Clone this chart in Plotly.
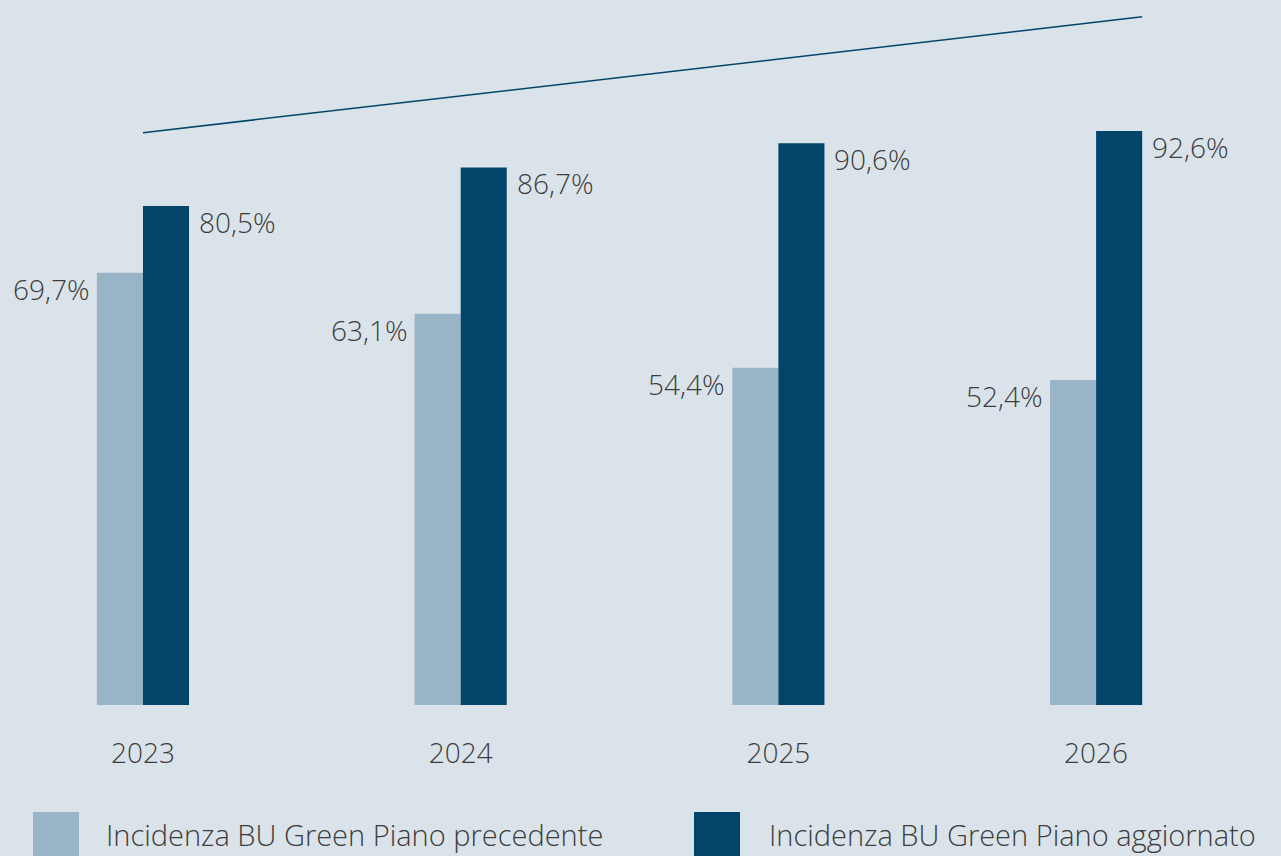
import plotly.graph_objects as go

# Data
years = ["2023", "2024", "2025", "2026"]
piano_precedente = [69.7, 63.1, 54.4, 52.4]
piano_aggiornato = [80.5, 86.7, 90.6, 92.6]
series_names = ["Incidenza BU Green Piano precedente", "Incidenza BU Green Piano aggiornato"]
trend_y = [92.3, 111.0]

LIGHT = "#9ab4c7"
DARK = "#03456a"
BG = "#dbe3ea"
TEXT = "#3d3d3d"
FONT = "Open Sans"
WEIGHT = 300

def fmt(v):
    return f"{v:.1f}".replace(".", ",") + "%"

fig = go.Figure()
fig.add_trace(go.Bar(x=years, y=piano_precedente, name=series_names[0],
                     marker=dict(color=LIGHT, line=dict(width=0))))
fig.add_trace(go.Bar(x=years, y=piano_aggiornato, name=series_names[1],
                     marker=dict(color=DARK, line=dict(width=0))))

half = 0.145  # single bar width in category units
lab_font = dict(size=28, color=TEXT, family=FONT, weight=WEIGHT)
annotations = []
for i, (a, b) in enumerate(zip(piano_precedente, piano_aggiornato)):
    annotations.append(dict(x=i - half, y=a, xref="x", yref="y", text=fmt(a),
                            showarrow=False, xanchor="right", yanchor="middle",
                            xshift=-5, yshift=-16, font=lab_font))
    annotations.append(dict(x=i + half, y=b, xref="x", yref="y", text=fmt(b),
                            showarrow=False, xanchor="left", yanchor="middle",
                            xshift=8, yshift=-16, font=lab_font))

# Legend drawn as swatches with labels beneath the plot
plot_h = 705.0
def py(px):
    return (plot_h - px) / plot_h

shapes = [
    dict(type="line", xref="x", yref="y", x0=0, y0=trend_y[0], x1=3 + half, y1=trend_y[1],
         line=dict(color=DARK, width=1.5)),
]
legend_x = [(33, 79, 104), (694, 740, 767)]
for (x0, x1, tx), name, col in zip(legend_x, series_names, [LIGHT, DARK]):
    shapes.append(dict(type="rect", xref="paper", yref="paper",
                       x0=x0 / 1281, x1=x1 / 1281, y0=py(812), y1=py(880),
                       fillcolor=col, line=dict(width=0), layer="above"))
    annotations.append(dict(x=tx / 1281, y=py(834), xref="paper", yref="paper", text=name,
                            showarrow=False, xanchor="left", yanchor="middle",
                            font=dict(size=29, color=TEXT, family=FONT, weight=WEIGHT)))

fig.update_layout(
    width=1281, height=856,
    margin=dict(l=0, r=0, t=0, b=151),
    paper_bgcolor=BG, plot_bgcolor=BG,
    barmode="group", bargap=0.71, bargroupgap=0,
    showlegend=False,
    annotations=annotations, shapes=shapes,
    xaxis=dict(range=[-0.450, 3.582], showgrid=False, zeroline=False, showline=False,
               ticks="", ticklabelstandoff=29,
               tickfont=dict(size=28, color=TEXT, family=FONT, weight=WEIGHT)),
    yaxis=dict(range=[0, 705 / 6.2], visible=False, showgrid=False, zeroline=False),
)

fig.write_html("out.html")
